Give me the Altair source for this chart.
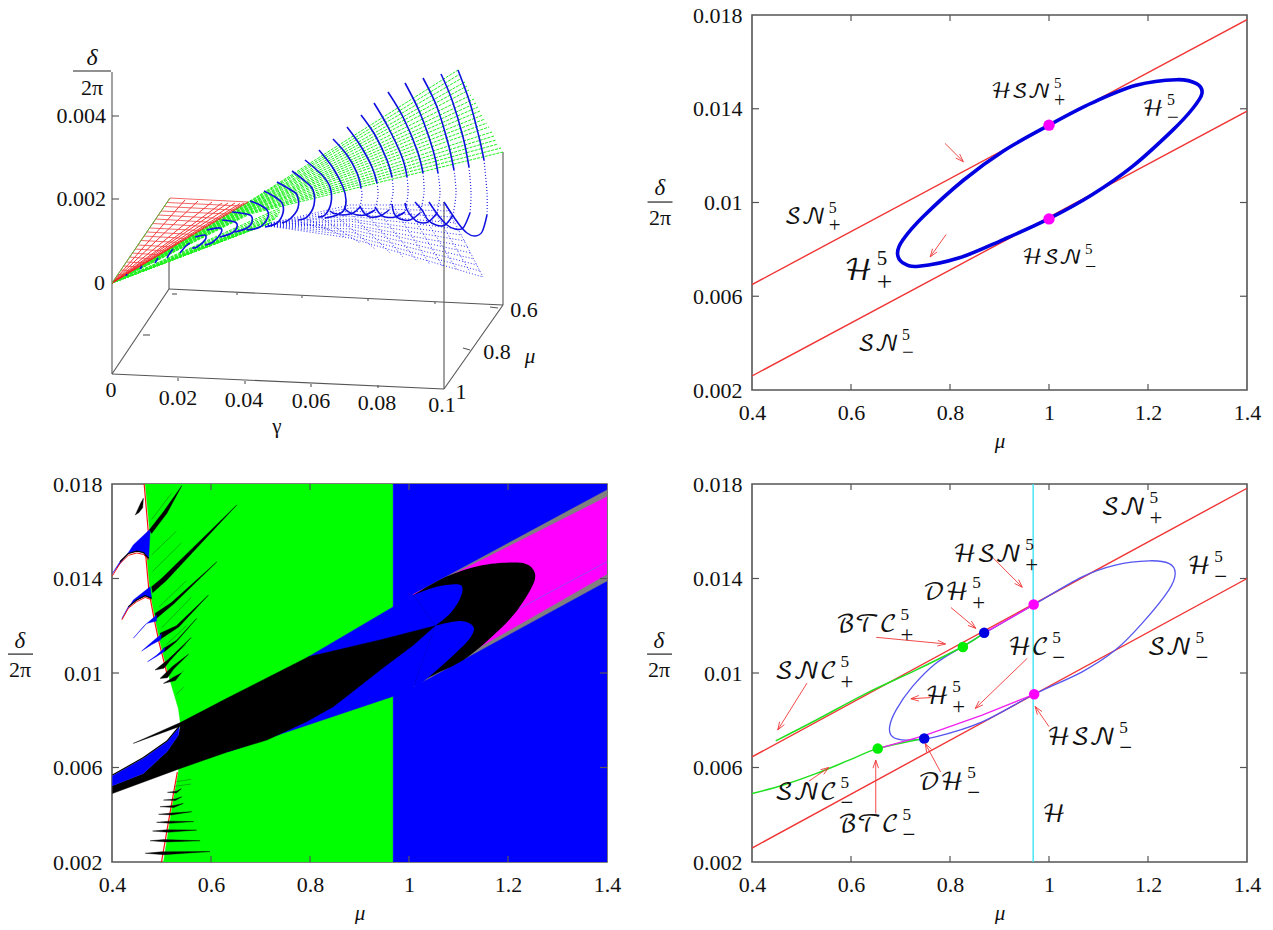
import altair as alt
import pandas as pd

SERIF = "Liberation Serif"
CAL = "DejaVu Math TeX Gyre, DejaVu Serif, DejaVu Sans"
AX = "#555555"
RED = "#f03535"

# ---------- shared ticks
MU_TICKS = [0.4, 0.6, 0.8, 1, 1.2, 1.4]
DE_TICKS = [0.002, 0.006, 0.01, 0.014, 0.018]

# ---------- top right panel
SN_PLUS = [(0.4, 0.0065), (1.4, 0.0178)]
SN_MINUS = [(0.4, 0.0026), (1.4, 0.0139)]
H_TOP = [(1.0, 0.0133), (1.087, 0.01425), (1.176, 0.0150), (1.258, 0.01524), (1.298, 0.01507), (1.309, 0.01465),
         (1.29, 0.0140), (1.25, 0.01309), (1.168, 0.01153), (1.087, 0.01033), (1.0, 0.00931), (0.908, 0.00842),
         (0.819, 0.00764), (0.737, 0.00728), (0.705, 0.00742), (0.694, 0.00785), (0.705, 0.00841), (0.746, 0.0094),
         (0.827, 0.01095), (0.908, 0.0122)]
TOP_POINTS = [(1.0, 0.0133), (1.0, 0.0093)]
TOP_ARROWS = [((0.790, 0.01252), (0.827, 0.01174)), ((0.792, 0.00863), (0.760, 0.00768))]
TOP_LABELS = [("ℋ𝒮𝒩", 1.004, 0.01472, "+", 21), ("ℋ𝒮𝒩", 1.067, 0.00763, "−", 21), ("ℋ", 1.232, 0.01399, "−", 22),
              ("ℋ", 0.644, 0.00708, "+", 29), ("𝒮𝒩", 0.549, 0.00938, "+", 22), ("𝒮𝒩", 0.697, 0.00396, "−", 22)]

# ---------- bottom right panel
SN_PLUS_B = [(0.4, 0.00645), (1.4, 0.01782)]
SN_MINUS_B = [(0.4, 0.00259), (1.4, 0.0140)]
HOPF_V = [(0.968, 0.002), (0.968, 0.018)]
H_BOT = [(0.966, 0.01285), (1.067, 0.01407), (1.134, 0.01457), (1.202, 0.01475), (1.242, 0.01464), (1.255, 0.01422),
         (1.242, 0.01351), (1.188, 0.0121), (1.134, 0.01097), (1.067, 0.01005), (0.970, 0.0091), (0.865, 0.00793),
         (0.771, 0.0073), (0.711, 0.00716), (0.684, 0.0073), (0.678, 0.00772), (0.691, 0.00843), (0.724, 0.00942),
         (0.771, 0.0104), (0.825, 0.01111), (0.869, 0.01167)]
SNC_PLUS = [(0.448, 0.00713), (0.529, 0.0080), (0.63, 0.00913), (0.731, 0.01012), (0.825, 0.01111), (0.869, 0.01170)]
SNC_MINUS = [(0.4, 0.0049), (0.462, 0.00525), (0.529, 0.00574), (0.596, 0.00631), (0.654, 0.0068), (0.748, 0.00723)]
MAG_LOW = [(0.654, 0.0068), (0.748, 0.00735), (0.865, 0.00822), (0.970, 0.0091)]
MAG_UP = [(0.869, 0.01170), (0.966, 0.01285)]
BOT_GREEN = [(0.654, 0.0068), (0.826, 0.0111)]
BOT_BLUE = [(0.748, 0.00723), (0.869, 0.0117)]
BOT_MAG = [(0.969, 0.0129), (0.970, 0.0091)]
BOT_ARROWS = [((0.881, 0.0150), (0.946, 0.01363)), ((0.802, 0.01277), (0.852, 0.01189)),
              ((0.651, 0.01151), (0.791, 0.01123)), ((0.511, 0.00957), (0.452, 0.00759)),
              ((0.956, 0.01062), (0.851, 0.00850)), ((0.761, 0.00896), (0.721, 0.00891)),
              ((1.0, 0.00773), (0.972, 0.00858)), ((0.781, 0.00581), (0.750, 0.00701)),
              ((0.650, 0.00405), (0.650, 0.00631)), ((0.515, 0.00542), (0.555, 0.00600))]
BOT_LABELS = [("𝒮𝒩", 1.196, 0.01699, "+", 24), ("ℋ𝒮𝒩", 0.945, 0.0150, "+", 24), ("𝒟ℋ", 0.838, 0.01339, "+", 24),
              ("ℬ𝒯𝒞", 0.693, 0.01203, "+", 24), ("ℋ", 1.327, 0.01449, "−", 24), ("ℋ𝒞", 1.0, 0.01106, "−", 24),
              ("𝒮𝒩", 1.289, 0.01106, "−", 24), ("𝒮𝒩𝒞", 0.572, 0.01004, "+", 24), ("ℋ", 0.798, 0.00898, "+", 24),
              ("ℋ𝒮𝒩", 1.135, 0.00725, "−", 24), ("𝒟ℋ", 0.828, 0.00534, "−", 24), ("𝒮𝒩𝒞", 0.572, 0.00492, "−", 24),
              ("ℬ𝒯𝒞", 0.697, 0.00357, "−", 24)]
BOT_PLAIN = [("ℋ", 1.034, 0.00399, "", 24)]

# ---------- bottom left panel: regions
GREEN_REGION = [(0.467, 0.018), (0.476, 0.0160), (0.470, 0.0150), (0.477, 0.0134), (0.487, 0.0123), (0.497, 0.0113),
                (0.514, 0.0099), (0.534, 0.0085), (0.538, 0.0079), (0.534, 0.0058), (0.521, 0.0043), (0.504, 0.002),
                (0.968, 0.002), (0.968, 0.018)]
BLUE_BASE = [(0.968, 0.002), (1.4, 0.002), (1.4, 0.018), (0.968, 0.018)]
BLUE_WEDGE = [(0.635, 0.00667), (0.972, 0.00904), (0.972, 0.01285), (0.797, 0.01069)]
GRAY_WEDGE = [(1.009, 0.01333), (1.4, 0.01775), (1.4, 0.01389), (1.009, 0.00942)]
MAGENTA_WEDGE = [(1.009, 0.01333), (1.4, 0.01746), (1.4, 0.01418), (1.009, 0.00949)]
PURPLE_LINE = [(1.211, 0.01259), (1.4, 0.01471)]
BLACK_LOBE = [(1.009, 0.0133), (1.076, 0.01408), (1.143, 0.01454), (1.211, 0.01468), (1.241, 0.01457), (1.255, 0.01415),
              (1.245, 0.01351), (1.211, 0.01245), (1.164, 0.01147), (1.110, 0.01055), (1.049, 0.00991), (1.009, 0.00949)]
BLUE_LOBE_UP = [(1.009, 0.0133), (1.056, 0.01365), (1.100, 0.01375), (1.108, 0.01351), (1.100, 0.01302),
                (1.080, 0.01245), (1.053, 0.0120)]
BLUE_LOBE_LOW = [(1.053, 0.0120), (1.103, 0.0122), (1.130, 0.01196), (1.123, 0.01147), (1.090, 0.01076),
                 (1.029, 0.00963), (1.009, 0.00942)]
BLUE_LEFT = [(0.968, 0.0128), (1.009, 0.0133), (1.053, 0.0120), (1.009, 0.00942), (0.968, 0.00907)]
BLACK_BAND = [(0.443, 0.00702), (0.538, 0.0079), (0.632, 0.00893), (0.797, 0.01069), (0.941, 0.0114), (1.053, 0.0120),
              (1.009, 0.01118), (0.942, 0.01013), (0.895, 0.00935), (0.847, 0.00857), (0.793, 0.00794), (0.713, 0.00716),
              (0.635, 0.00667), (0.538, 0.00596), (0.401, 0.0049), (0.401, 0.00523), (0.4635, 0.00575), (0.511, 0.00667),
              (0.534, 0.00737), (0.538, 0.00775)]
BLUE_TONGUE = [(0.401, 0.00565), (0.4635, 0.00639), (0.511, 0.00709), (0.536, 0.00773), (0.534, 0.00737), (0.511, 0.00667),
               (0.4635, 0.00575), (0.401, 0.00523)]
EDGE_TONGUE = [(0.401, 0.00568), (0.4635, 0.00642), (0.511, 0.00712), (0.536, 0.00775)]
BLUE_SPIKES = [
    [(0.401, 0.01422), (0.43, 0.0150), (0.443, 0.01542), (0.475, 0.01605), (0.477, 0.01598), (0.474, 0.01485), (0.4635, 0.0151), (0.45, 0.01516), (0.433, 0.01506), (0.416, 0.01471)],
    [(0.42, 0.01231), (0.443, 0.01309), (0.477, 0.01365), (0.48, 0.01316), (0.467, 0.01327), (0.45, 0.01309), (0.433, 0.01281)],
    [(0.443, 0.01147), (0.465, 0.0120), (0.49, 0.01245), (0.49, 0.0122), (0.47, 0.0121)],
    [(0.46, 0.01093), (0.48, 0.0113), (0.50, 0.01165), (0.498, 0.0114), (0.48, 0.0112)],
    [(0.472, 0.01048), (0.49, 0.01075), (0.507, 0.01108), (0.505, 0.0109), (0.49, 0.0107)],
]
BLACK_SPIKES = [
    [(0.475, 0.01605), (0.504, 0.01683), (0.541, 0.01793), (0.511, 0.01676), (0.480, 0.01591)],
    [(0.447, 0.01669), (0.458, 0.0172), (0.4635, 0.0174), (0.462, 0.0170), (0.455, 0.0168)],
    [(0.48, 0.01365), (0.5, 0.0140), (0.652, 0.01711), (0.51, 0.01392), (0.482, 0.0134)],
    [(0.487, 0.01252), (0.52, 0.01298), (0.612, 0.01471), (0.525, 0.01293), (0.489, 0.0123)],
    [(0.497, 0.01168), (0.53, 0.0120), (0.595, 0.0133), (0.535, 0.01195), (0.499, 0.01145)],
    [(0.504, 0.01104), (0.53, 0.01138), (0.571, 0.01231), (0.53, 0.01132), (0.506, 0.0109)],
    [(0.487, 0.01013), (0.514, 0.01058), (0.56, 0.0115), (0.517, 0.01052), (0.505, 0.0102)],
    [(0.497, 0.00977), (0.522, 0.01028), (0.555, 0.0108), (0.525, 0.01018), (0.512, 0.0098)],
    [(0.504, 0.00956), (0.524, 0.00982), (0.54, 0.0100), (0.528, 0.00968)],
    [(0.467, 0.00237), (0.50, 0.00243), (0.598, 0.00244), (0.505, 0.00231)],
    [(0.477, 0.0029), (0.505, 0.00295), (0.578, 0.0029), (0.51, 0.00285)],
    [(0.482, 0.00331), (0.51, 0.00336), (0.571, 0.00335), (0.513, 0.00326)],
    [(0.49, 0.00368), (0.515, 0.00373), (0.565, 0.00371), (0.517, 0.00364)],
    [(0.494, 0.00402), (0.52, 0.00407), (0.561, 0.00413), (0.52, 0.00399)],
    [(0.497, 0.00434), (0.525, 0.00439), (0.544, 0.00448), (0.525, 0.00431)],
    [(0.504, 0.00462), (0.528, 0.00467), (0.541, 0.00476), (0.528, 0.0046)],
    [(0.512, 0.00495), (0.53, 0.0050), (0.54, 0.0051), (0.53, 0.00492)],
]
FINE_SPIKES = [[(0.48, 0.0150), (0.53, 0.0160)], [(0.482, 0.0143), (0.54, 0.0155)], [(0.49, 0.0136), (0.55, 0.0149)],
               [(0.495, 0.0128), (0.55, 0.0139)], [(0.50, 0.0119), (0.56, 0.0132)], [(0.51, 0.0112), (0.55, 0.0120)],
               [(0.515, 0.0106), (0.55, 0.0112)], [(0.525, 0.0097), (0.545, 0.0101)], [(0.53, 0.0091), (0.545, 0.0094)],
               [(0.53, 0.0054), (0.56, 0.0055)], [(0.525, 0.0052), (0.56, 0.0053)], [(0.48, 0.0165), (0.52, 0.0176)]]
RED_EDGE_TOP = [(0.465, 0.018), (0.474, 0.0158), (0.468, 0.0150), (0.475, 0.0134), (0.485, 0.0123), (0.495, 0.0113), (0.512, 0.0099)]
RED_EDGE_LOW = [(0.532, 0.0058), (0.519, 0.0043), (0.50, 0.002)]
RED_TONGUE_EDGES = [[(0.401, 0.01412), (0.416, 0.01463), (0.433, 0.01498), (0.45, 0.01508), (0.4635, 0.01502), (0.474, 0.01478)],
                    [(0.42, 0.01225), (0.433, 0.01274), (0.45, 0.01302), (0.467, 0.0132), (0.48, 0.0131)]]
BLACK_TONGUE_EDGES = [[(0.416, 0.01471), (0.433, 0.01506), (0.45, 0.01516), (0.4635, 0.0151), (0.474, 0.01485)],
                      [(0.433, 0.01281), (0.45, 0.01309), (0.467, 0.01327), (0.48, 0.01316)]]

# ---------- top left panel, read as projected picture positions
RED_RAY_ENDS = [(170, 198), (185, 200), (198, 201), (212, 202), (222, 203), (228, 203), (235, 203), (240, 203.5), (244, 203), (248, 202)]
RED_CROSS = [((115, 279), (119, 279)), ((118, 274.5), (126, 275)), ((121, 270), (132, 271)), ((124, 266), (139, 267)),
             ((127, 262), (146, 263)), ((129, 257), (153, 259)), ((132, 253), (160, 255)), ((135, 249), (166, 251)),
             ((138, 245), (173, 247)), ((141, 240.5), (180, 242.5)), ((144, 236), (187, 238.5)), ((147, 232), (194, 234.5)),
             ((150, 228), (200, 230.5)), ((153, 223.5), (207, 226.5)), ((156, 219), (214, 222.5)), ((158, 215), (221, 218.5)),
             ((161, 211), (228, 214)), ((164, 206.5), (234, 210)), ((167, 202.5), (241, 206)), ((170, 198), (248, 202))]
GREEN_ENDS_X = [458, 460, 462, 465, 467, 469, 471, 474, 476, 478, 480, 483, 485, 487, 489, 492, 494, 496, 498, 501, 503]
GREEN_ENDS_Y = [70, 74, 78, 82, 86, 90, 95, 99, 103, 107, 111, 115, 119, 123, 127, 132, 136, 140, 144, 148, 152]
GREEN_MIDS_Y = [201, 201.5, 202, 203, 203.5, 204, 204.5, 205, 206, 206.5, 207, 207.5, 208, 209, 209.5, 210, 211, 212, 212.5, 213, 214]
GREEN_LOW_ENDS = [(280, 208), (280, 210), (280, 212), (279, 214), (278, 216), (276, 218), (275, 219), (272, 222), (270, 223),
                  (268, 224), (265, 225), (262, 226), (258, 227), (255, 228), (248, 230), (240, 232), (230, 236)]
BLUE_A_FAMILY = [((444, 202), (483, 277)), ((429, 202), (470, 272)), ((415, 202), (457, 270)), ((405, 203), (443, 267)),
                 ((392, 204), (430, 265)), ((375, 207), (417, 261)), ((360, 206), (403, 257)), ((345, 208), (390, 253)),
                 ((330, 211), (375, 249)), ((318, 216), (360, 243)), ((305, 218), (345, 237)), ((292, 220), (330, 230)),
                 ((280, 222), (315, 226))]
BLUE_B_ENDS_X = [483, 480, 477, 474, 471, 468, 465, 462, 459, 456, 453, 450, 447]
BLUE_B_ENDS_Y = [277, 271, 265, 259, 253, 247, 241, 235, 229, 223, 217, 211, 205]
BLUE_B_MIDS_Y = [238, 235, 232, 229, 226, 224, 221, 219, 216, 214, 211, 208, 205]
BIG_ARCS = [
    [(458, 70), (470, 103), (479, 137), (484, 160), (487, 193), (487, 215), (482, 232), (475, 236), (467, 233), (458, 223), (444, 202)],
    [(441, 74), (452, 100), (463, 137), (469, 167), (471, 193), (470, 213), (463, 228), (455, 229), (447, 225), (438, 215), (429, 202)],
    [(423, 78), (437, 107), (448, 143), (454, 170), (456, 193), (453, 215), (445, 225), (436, 225), (428, 220), (422, 210), (415, 202)],
    [(405, 83), (420, 113), (433, 150), (438, 173), (440, 193), (437, 213), (428, 222), (418, 222), (412, 217), (407, 210), (405, 203)],
    [(388, 92), (403, 117), (417, 150), (423, 173), (424, 193), (420, 213), (410, 220), (400, 219), (395, 215), (393, 210), (392, 204)],
    [(374, 103), (388, 127), (402, 157), (407, 177), (408, 193), (405, 212), (395, 217), (385, 217), (380, 214), (377, 210), (375, 207)],
    [(361, 115), (375, 135), (387, 160), (392, 177), (393, 193), (389, 210), (380, 216), (370, 217), (365, 214), (362, 210), (360, 206)],
    [(347, 127), (360, 145), (372, 167), (377, 183), (378, 195), (375, 210), (365, 215), (357, 215), (351, 213), (347, 211), (345, 208)],
    [(333, 139), (347, 155), (357, 173), (361, 188), (362, 195), (360, 207), (353, 213), (343, 215), (337, 214), (333, 213), (330, 211)],
]
SMALL_ARCS = [
    [(319, 150), (333, 168), (343, 187), (346, 200), (344, 210), (337, 215), (325, 218)],
    [(305, 160), (322, 175), (330, 187), (331, 203), (325, 215), (318, 217)],
    [(292, 171), (306, 182), (313, 190), (314, 205), (307, 217), (298, 220)],
    [(277, 182), (291, 190), (297, 195), (298, 208), (290, 219), (282, 223)],
    [(264, 191), (275, 197), (282, 203), (283, 213), (277, 223), (265, 227)],
    [(250, 201), (260, 205), (267, 210), (268, 217), (260, 227), (247, 230)],
    [(232, 212), (250, 215), (252, 222), (247, 228), (235, 232)],
    [(222, 220), (235, 222), (237, 227), (232, 233), (220, 237)],
    [(207, 230), (220, 228), (221, 233), (213, 242), (205, 245)],
    [(195, 237), (205, 235), (205, 240), (197, 247), (192, 248)],
    [(180, 253), (186, 246), (190, 243)],
    [(167, 258), (170, 253), (173, 249)],
    [(155, 263), (158, 258)],
    [(140, 269), (142, 266)],
    [(126, 276), (127, 274)],
]
AXIS3D = [((112, 72), (112, 374)), ((112, 374), (444, 389)), ((444, 389), (444, 202)), ((169, 289), (503, 305)),
          ((169, 289), (169, 258)), ((503, 305), (503, 152)), ((112, 374), (169, 289)), ((444, 389), (503, 305)),
          ((112, 116), (119, 116)), ((112, 199), (119, 199)), ((143, 335), (150, 335)), ((172, 294), (177, 294)),
          ((463, 348), (470, 350)), ((490, 307), (498, 308)), ((178, 381), (178, 378)), ((245, 384), (245, 381)),
          ((311, 387), (311, 384)), ((378, 388), (378, 385)), ((237, 293), (237, 295)), ((302, 296), (302, 298)),
          ((368, 299), (368, 301)), ((435, 302), (435, 304))]
TEXT3D = [("0.004", 106, 116, "right"), ("0.002", 106, 199, "right"), ("0", 105, 283, "right"),
          ("0", 111, 390, "center"), ("0.02", 178, 398, "center"), ("0.04", 244, 400, "center"),
          ("0.06", 311, 401, "center"), ("0.08", 377, 403, "center"), ("0.1", 442, 405, "center"),
          ("0.6", 524, 310, "center"), ("0.8", 497, 352, "center"), ("1", 461, 392, "center"),
          ("2π", 92, 88, "center")]
GREEK3D = [("γ", 277, 427)]
DELTA3D = [("δ", 92, 58)]
MU3D = [("μ", 530, 357)]
FRACTION3D = [((73, 71), (111, 71))]

# ---------- panel geometry
W, H_T, H_B = 495, 375, 378
PX_MU = 1.0 / W


def df_line(lines):
    rows = []
    for k, pts in enumerate(lines):
        for i, (x, y) in enumerate(pts):
            rows.append({"id": k, "i": i, "x": x, "y": y})
    return pd.DataFrame(rows)


def df_seg(segs):
    return pd.DataFrame([{"x": a[0], "y": a[1], "x2": b[0], "y2": b[1]} for a, b in segs])


XAXIS = alt.Axis(values=MU_TICKS, format="~g", ticks=False, domain=False, grid=False, labelFont=SERIF,
                 labelFontSize=22, labelColor="#111111", labelPadding=12, title="μ", titleFont=SERIF,
                 titleFontStyle="italic", titleFontWeight="normal", titleFontSize=21, titleColor="#111111",
                 titlePadding=7, labelFlush=False, labelOverlap=False)
YAXIS = alt.Axis(values=DE_TICKS, format="~g", ticks=False, domain=False, grid=False, labelFont=SERIF,
                 labelFontSize=22, labelColor="#111111", labelPadding=10, title=None, labelFlush=False,
                 labelOverlap=False)


class Panel:
    def __init__(self, xdom, ydom, xaxis, yaxis):
        self.xs = alt.Scale(domain=xdom, nice=False, zero=False)
        self.ys = alt.Scale(domain=ydom, nice=False, zero=False)
        self.xaxis = xaxis
        self.yaxis = yaxis

    def x(self):
        return alt.X("x:Q", scale=self.xs, axis=self.xaxis, title="μ" if self.xaxis else None)

    def y(self):
        return alt.Y("y:Q", scale=self.ys, axis=self.yaxis, title=None)

    def lines(self, lines, color, width=1.0, dash=None, interp="linear", opacity=1.0, clip=True):
        kw = {}
        if dash:
            kw["strokeDash"] = dash
        return alt.Chart(df_line(lines)).mark_line(color=color, strokeWidth=width, interpolate=interp,
                                                   opacity=opacity, clip=clip, **kw).encode(
            x=self.x(), y=self.y(), detail="id:N", order=alt.Order("i:Q"))

    def fills(self, polys, color, interp="linear"):
        data = polys if interp == "cardinal" else [p + [p[0]] for p in polys]
        stroke = "transparent" if interp == "cardinal" else color
        return alt.Chart(df_line(data)).mark_line(
            fill=color, stroke=stroke, strokeWidth=0.4, clip=True, interpolate=interp).encode(
            x=self.x(), y=self.y(), detail="id:N", order=alt.Order("i:Q"))

    def segs(self, segs, color, width=1.0):
        return alt.Chart(df_seg(segs)).mark_rule(color=color, strokeWidth=width).encode(
            x=self.x(), y=self.y(), x2="x2:Q", y2="y2:Q")

    def points(self, pts, color, size=130):
        d = pd.DataFrame(pts, columns=["x", "y"])
        return alt.Chart(d).mark_point(filled=True, color=color, size=size, opacity=1, shape="circle").encode(
            x=self.x(), y=self.y())

    def text(self, rows, size, font=SERIF, style="normal", align="center", color="#111111"):
        d = pd.DataFrame(rows, columns=["t", "x", "y"])
        return alt.Chart(d).mark_text(font=font, fontSize=size, fontStyle=style, align=align, baseline="middle",
                                      color=color).encode(x=self.x(), y=self.y(), text="t:N")


def ticks_layer(p, height):
    dy = 0.016 / height
    dx = PX_MU
    seg = []
    for v in MU_TICKS[1:-1]:
        seg.append(((v, 0.002), (v, 0.002 + 6 * dy)))
        seg.append(((v, 0.018), (v, 0.018 - 6 * dy)))
    for v in DE_TICKS[1:-1]:
        seg.append(((0.4, v), (0.4 + 7 * dx, v)))
        seg.append(((1.4, v), (1.4 - 7 * dx, v)))
    return p.segs(seg, AX, 1.2)


def fraction(p, xc, yd, yb, y2, xb1, xb2):
    return [p.text([("δ", xc, yd)], 23, style="italic"),
            p.text([("2π", xc, y2)], 22),
            p.segs([((xb1, yb), (xb2, yb))], "#222222", 1.2)]


def arrows(p, arr, height):
    dy = 0.016 / height
    heads = []
    for (a, b) in arr:
        ax, ay = a[0] / PX_MU, a[1] / dy
        bx, by = b[0] / PX_MU, b[1] / dy
        ux, uy = ax - bx, ay - by
        n = (ux * ux + uy * uy) ** 0.5
        ux, uy = ux / n, uy / n
        L, w = 8.0, 2.8
        h1 = ((bx + L * ux - w * uy) * PX_MU, (by + L * uy + w * ux) * dy)
        h2 = ((bx + L * ux + w * uy) * PX_MU, (by + L * uy - w * ux) * dy)
        heads.append([h1, b, h2])
    shafts = [[a, b] for (a, b) in arr]
    return [p.lines(shafts, RED, 0.9), p.lines(heads, RED, 0.9)]


def labels(p, rows, height):
    dy = 0.016 / height
    out = []
    for size in sorted({r[4] for r in rows}):
        sel = [r for r in rows if r[4] == size]
        out.append(p.text([(r[0], r[1], r[2]) for r in sel], size, font=CAL, align="right"))
        gap = 0.14 * size * PX_MU
        sup = [("5", r[1] + gap, r[2] + 0.42 * size * dy) for r in sel if r[3]]
        sub = [(r[3], r[1] + gap, r[2] - 0.42 * size * dy) for r in sel if r[3]]
        if sup:
            out.append(p.text(sup, size * 0.72, align="left"))
            out.append(p.text(sub, size * 0.95, align="left"))
    return out


VIEW = alt.ViewBackground(stroke=AX, strokeWidth=1.6)
NOVIEW = alt.ViewBackground(stroke=None)

# ---------- TR
tr = Panel([0.4, 1.4], [0.002, 0.018], XAXIS, YAXIS)
tr_layers = [ticks_layer(tr, H_T),
             tr.lines([SN_PLUS, SN_MINUS], RED, 1.4),
             tr.lines([H_TOP], "#0000e0", 3.6, interp="cardinal-closed"),
             tr.points(TOP_POINTS, "#ff00ff", 130)]
tr_layers += arrows(tr, TOP_ARROWS, H_T)
tr_layers += labels(tr, TOP_LABELS, H_T)
tr_layers += fraction(tr, 0.214, 0.01062, 0.01002, 0.00934, 0.189, 0.2394)
top_right = alt.layer(*tr_layers).properties(width=W, height=H_T, view=VIEW)

# ---------- BR
br = Panel([0.4, 1.4], [0.002, 0.018], XAXIS, YAXIS)
br_layers = [ticks_layer(br, H_B),
             br.lines([HOPF_V], "#30e0f0", 1.3),
             br.lines([SN_PLUS_B, SN_MINUS_B], RED, 1.4),
             br.lines([H_BOT], "#5555f0", 1.3, interp="cardinal-closed"),
             br.lines([SNC_PLUS, SNC_MINUS], "#20e020", 1.5, interp="cardinal"),
             br.lines([MAG_LOW, MAG_UP], "#f020f0", 1.3),
             br.points(BOT_GREEN, "#00ee00", 110),
             br.points(BOT_BLUE, "#0000e0", 110),
             br.points(BOT_MAG, "#ff00ff", 110)]
br_layers += arrows(br, BOT_ARROWS, H_B)
br_layers += labels(br, BOT_LABELS, H_B)
br_layers += labels(br, BOT_PLAIN, H_B)
br_layers += fraction(br, 0.212, 0.01136, 0.0108, 0.01013, 0.188, 0.2384)
bottom_right = alt.layer(*br_layers).properties(width=W, height=H_B, view=VIEW)

# ---------- BL
bl = Panel([0.4, 1.4], [0.002, 0.018], XAXIS, YAXIS)
bl_layers = [bl.fills([GREEN_REGION], "#00ff00"),
             bl.fills([BLUE_BASE], "#0000ff"),
             bl.fills([GRAY_WEDGE], "#808080"),
             bl.fills([MAGENTA_WEDGE], "#ff00ff"),
             bl.lines([PURPLE_LINE], "#a040f0", 1.0),
             bl.fills([BLACK_LOBE], "#000000", "cardinal"),
             bl.fills([BLUE_WEDGE, BLUE_LEFT], "#0000ff"),
             bl.fills([BLUE_LOBE_UP, BLUE_LOBE_LOW], "#0000ff", "cardinal"),
             bl.fills([BLACK_BAND], "#000000"),
             bl.fills([BLUE_TONGUE], "#0000ff"),
             bl.lines([EDGE_TONGUE], "#000000", 1.2),
             bl.lines([RED_EDGE_TOP, RED_EDGE_LOW], "#ff1010", 1.2),
             bl.lines(FINE_SPIKES, "#203020", 0.6, opacity=0.6),
             bl.fills(BLACK_SPIKES, "#000000"),
             bl.fills(BLUE_SPIKES, "#0000ff"),
             bl.lines(RED_TONGUE_EDGES, "#ff1010", 1.0),
             bl.lines(BLACK_TONGUE_EDGES, "#000000", 1.2),
             ticks_layer(bl, H_B)]
bl_layers += fraction(bl, 0.214, 0.01136, 0.0108, 0.01013, 0.188, 0.2404)
bottom_left = alt.layer(*bl_layers).properties(width=W, height=H_B, view=VIEW)

# ---------- TL
tl = Panel([112, 607], [390, 15], None, None)
origin = (112, 283)
green_top = [[origin, (250, my), (ex, ey)] for ex, ey, my in zip(GREEN_ENDS_X, GREEN_ENDS_Y, GREEN_MIDS_Y)]
green_low = [[origin, e] for e in GREEN_LOW_ENDS]
red_rays = [[origin, e] for e in RED_RAY_ENDS]
red_cross = [[a, b] for a, b in RED_CROSS]
blue_a = [[a, b] for a, b in BLUE_A_FAMILY]
blue_b = [[(262, 225), (350, my), (ex, ey)] for ex, ey, my in zip(BLUE_B_ENDS_X, BLUE_B_ENDS_Y, BLUE_B_MIDS_Y)]
tl_layers = [tl.segs(AXIS3D, AX, 1.1),
             tl.lines(blue_a, "#2020f0", 0.9, dash=[1, 2]),
             tl.lines(blue_b, "#2020f0", 0.9, dash=[1, 2]),
             tl.lines(green_top, "#20f020", 1.0, dash=[3, 1]),
             tl.lines(green_low, "#20f020", 1.0, dash=[3, 1]),
             tl.lines(red_rays, "#f02020", 0.9),
             tl.lines(red_cross, "#f04040", 0.8),
             tl.lines([[(112, 283), (170, 198)]], "#40d040", 0.9),
             tl.lines([a[:4] for a in BIG_ARCS], "#1010e0", 1.6, interp="cardinal"),
             tl.lines([a[3:6] for a in BIG_ARCS], "#2020e0", 1.2, dash=[1, 2], interp="cardinal"),
             tl.lines([a[5:] for a in BIG_ARCS], "#1010e0", 1.5, interp="cardinal"),
             tl.lines(SMALL_ARCS, "#1010e0", 1.6, interp="cardinal"),
             tl.segs(FRACTION3D, "#222222", 1.2)]
for align in ("right", "center"):
    tl_layers.append(tl.text([(t, x, y) for t, x, y, a in TEXT3D if a == align], 22, align=align))
tl_layers.append(tl.text(DELTA3D, 24, style="italic"))
tl_layers.append(tl.text(GREEK3D, 21))
tl_layers.append(tl.text(MU3D, 21, style="italic"))
top_left = alt.layer(*tl_layers).properties(width=W, height=H_T, view=NOVIEW)

chart = alt.concat(top_left, top_right, bottom_left, bottom_right, columns=2, spacing={"row": 94, "column": 145},
                   bounds="flush").properties(padding={"left": -3, "top": -5, "right": 0, "bottom": 0},
                                              background="white").configure_view(stroke=None)
chart.save("out.html", embed_options={"renderer": "svg", "actions": False})
